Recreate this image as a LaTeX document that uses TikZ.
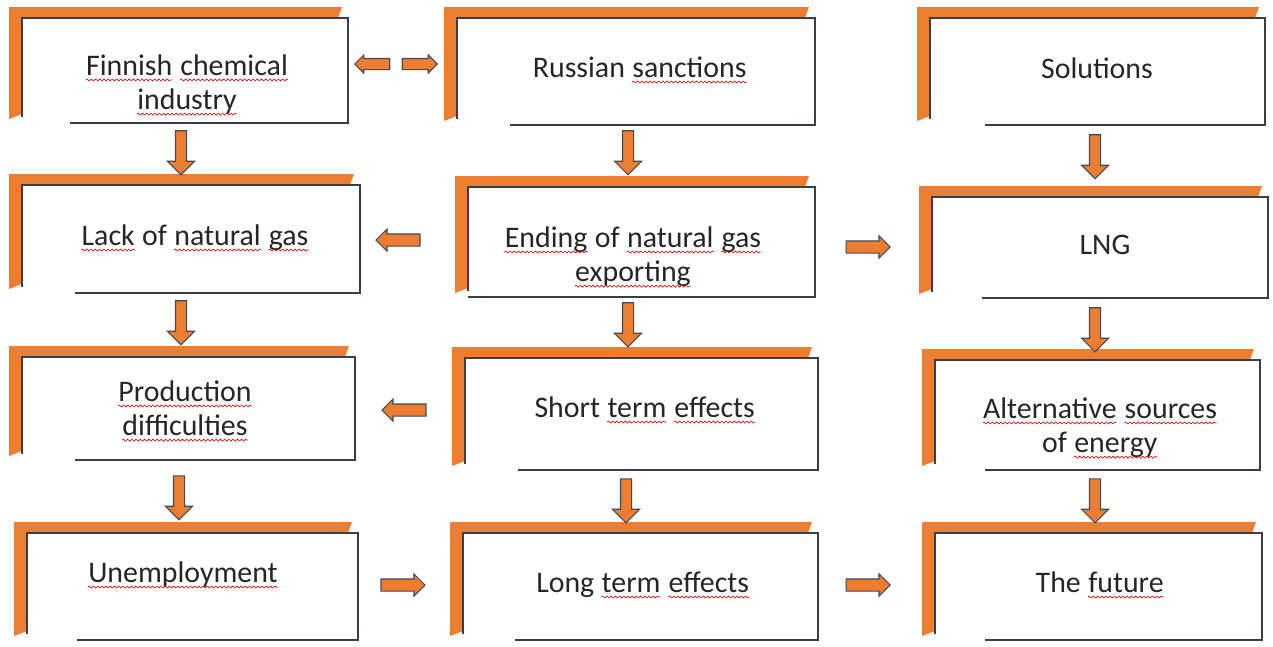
\documentclass[tikz,border=0pt]{standalone}
\usepackage{fontspec}
\setmainfont{Carlito}
\usetikzlibrary{shapes.arrows,decorations.pathmorphing}
\definecolor{boxorange}{HTML}{ED7D31}
\definecolor{arrowline}{HTML}{3E4B5B}
\definecolor{boxline}{HTML}{3A3F47}
% red wavy mark under a word
\newcommand\sq[1]{\tikz[baseline=(w.base)]{\node[inner sep=0pt] (w) {#1};
  \draw[red!85!black, line width=0.35pt, decorate, decoration={snake, amplitude=0.55pt, segment length=2.4pt}]
    ([yshift=-2.6pt]w.base west) -- ([yshift=-2.6pt]w.base east);}}
% orange bracket + open box: left, top, right, bottom, start of bottom line
\newcommand\bracketbox[5]{%
  \fill[boxorange] (#1-13,#2-11) -- (#3-6,#2-11) -- (#3-10,#2) -- (#1,#2) -- (#1,#4-9) -- (#1-13,#4-4) -- cycle;
  \draw[boxline,line width=0.7pt] (#5,#4) -- (#3,#4) -- (#3,#2) -- (#1,#2) -- (#1,#4-6);
}
\tikzset{
  txt/.style={font=\fontsize{17}{19.5}\selectfont, align=center, text=black!85, inner sep=0pt},
  blockarrow/.style={single arrow, fill=boxorange, draw=arrowline, line width=0.6pt,
    single arrow head indent=0pt},
  downarrow/.style={blockarrow, shape border rotate=270, inner xsep=0.1cm, inner ysep=0pt,
    single arrow head extend=0.16cm, minimum height=0.88cm},
  sidearrow/.style={blockarrow, inner xsep=0pt, inner ysep=0.11cm,
    single arrow head extend=0.1cm, minimum height=0.88cm},
  smallarrow/.style={blockarrow, inner xsep=0pt, inner ysep=0.1cm,
    single arrow head extend=0.07cm, minimum height=0.7cm}
}
\begin{document}
\begin{tikzpicture}[x=0.02cm,y=-0.02cm]
    \useasboundingbox (0,0) rectangle (1273,646);
    % left column
    \bracketbox{22}{18}{348}{123}{70}
    \bracketbox{22}{185}{360}{293}{75}
    \bracketbox{22}{357}{355}{460}{75}
    \bracketbox{27}{533}{358}{640}{77}
    % middle column
    \bracketbox{457}{18}{815}{125}{510}
    \bracketbox{468}{187}{815}{297}{468}
    \bracketbox{465}{358}{818}{470}{518}
    \bracketbox{463}{533}{818}{640}{515}
    % right column
    \bracketbox{930}{18}{1265}{125}{985}
    \bracketbox{932}{197}{1268}{298}{982}
    \bracketbox{935}{360}{1260}{470}{985}
    \bracketbox{935}{533}{1262}{640}{985}

    \node[txt] (finnish) at (187,85) {\sq{Finnish} \sq{chemical}\\\sq{industry}};
    \node[txt] (lack) at (195,238) {\sq{Lack} of \sq{natural} \sq{gas}};
    \node[txt] (production) at (185,411) {\sq{Production}\\\sq{difficulties}};
    \node[txt] (unemployment) at (183,575) {\sq{Unemployment}};
    \node[txt] (sanctions) at (640,70) {Russian \sq{sanctions}};
    \node[txt] (ending) at (633,257) {\sq{Ending} of \sq{natural} \sq{gas}\\\sq{exporting}};
    \node[txt] (shortterm) at (645,410) {Short \sq{term} \sq{effects}};
    \node[txt] (longterm) at (643,585) {Long \sq{term} \sq{effects}};
    \node[txt] (solutions) at (1097,68) {Solutions};
    \node[txt] (lng) at (1105,245) {LNG};
    \node[txt] (alternative) at (1100,428) {\sq{Alternative} \sq{sources}\\of \sq{energy}};
    \node[txt] (future) at (1100,585) {The \sq{future}};

    % block arrows
    \node[smallarrow, shape border rotate=180] (dblleft) at (375,64) {};
    \node[smallarrow] (dblright) at (417,64) {};
    \node[downarrow] (finlack) at (181,150) {};
    \node[downarrow] (lackprod) at (181,320) {};
    \node[downarrow] (produnemp) at (179,495) {};
    \node[downarrow] (sancend) at (628,150) {};
    \node[downarrow] (endshort) at (628,322) {};
    \node[downarrow] (shortlong) at (626,498) {};
    \node[downarrow] (sollng) at (1095,154) {};
    \node[downarrow] (lngalt) at (1095,327) {};
    \node[downarrow] (altfut) at (1095,498) {};
    \node[sidearrow, shape border rotate=180] (endlack) at (401,240) {};
    \node[sidearrow, shape border rotate=180] (shortprod) at (407,410) {};
    \node[sidearrow] (endlng) at (865,247) {};
    \node[sidearrow] (unemplong) at (400,585) {};
    \node[sidearrow] (longfut) at (865,585) {};
\end{tikzpicture}
\end{document}
